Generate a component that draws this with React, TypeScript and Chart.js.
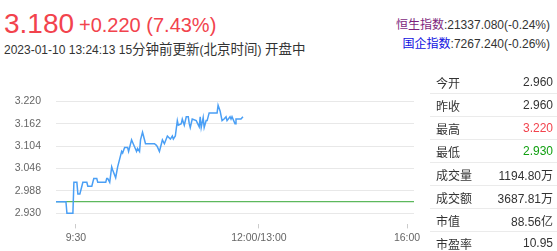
import React, { useEffect, useRef } from 'react';
import { Chart, registerables } from 'chart.js';

Chart.register(...registerables);

// Intraday series: trading-minute index (pre-open counted from 9:00, lunch break skipped) and last price
const minutes = [
  0, 10, 11, 17, 18, 21, 22, 24, 26, 27, 31, 32, 36, 38, 41, 42, 50, 51, 52, 54,
  56, 57, 60, 62, 64, 66, 67, 69, 72, 73, 76, 77, 81, 82, 84, 85, 87, 88, 90, 99,
  101, 102, 104, 106, 107, 109, 112, 115, 117, 118, 120, 122, 123, 126, 127, 129, 131, 133, 134, 135,
  137, 141, 144, 145, 146, 148, 149, 151, 152, 154, 162, 163, 165, 167, 169, 171, 172, 175, 176, 177,
  180, 181, 186, 188,
];
const prices = [
  2.96, 2.96, 2.93, 2.93, 3.01, 3.01, 2.98, 2.98, 3.0, 3.01, 3.01, 3.0, 3.0, 3.02, 3.02, 3.01, 3.01, 3.02, 3.02, 3.01,
  3.05, 3.042, 3.022, 3.05, 3.07, 3.09, 3.086, 3.1, 3.1, 3.09, 3.12, 3.114, 3.09, 3.098, 3.09, 3.12, 3.14, 3.13, 3.11, 3.11,
  3.106, 3.102, 3.09, 3.11, 3.12, 3.11, 3.13, 3.122, 3.13, 3.122, 3.13, 3.17, 3.158, 3.162, 3.174, 3.158, 3.18, 3.18, 3.162, 3.152,
  3.174, 3.17, 3.154, 3.18, 3.152, 3.178, 3.152, 3.17, 3.17, 3.19, 3.19, 3.21, 3.195, 3.17, 3.174, 3.18, 3.17, 3.18, 3.174, 3.18,
  3.162, 3.174, 3.174, 3.18,
];
const prevClose = 2.96;
const sessionMinutes = 360;

// Axis ticks
const yTickValues = [2.93, 2.988, 3.046, 3.104, 3.162, 3.22];
const xTickMinutes = [20, 204, 353];
const xTickLabels = ['9:30', '12:00/13:00', '16:00'];

// Quote header
const lastPrice = '3.180';
const change = '+0.220 (7.43%)';
const updateLine = '2023-01-10 13:24:13 15分钟前更新(北京时间) 开盘中';
const indexNames = ['恒生指数', '国企指数'];
const indexValues = [':21337.080(-0.24%)', ':7267.240(-0.26%)'];

// Quote table
const quoteLabels = ['今开', '昨收', '最高', '最低', '成交量', '成交额', '市值', '市盈率'];
const quoteValues = ['2.960', '2.960', '3.220', '2.930', '1194.80万', '3687.81万', '88.56亿', '10.95'];
const quoteTones = ['', '', 'up', 'down', '', '', '', ''];

const RED = '#f2434d';
const GREEN_TEXT = '#12a012';
const TEXT = '#333333';
const FONT = "'Liberation Sans', Arial, 'Noto Sans CJK SC', sans-serif";

// Han characters are set a little larger than the Latin text around them
function MixedText({ text, cjkSize }: { text: string; cjkSize: number }) {
  const parts = text.split(/([\u4e00-\u9fff]+)/).filter((p) => p.length > 0);
  return (
    <>
      {parts.map((p, i) =>
        /[\u4e00-\u9fff]/.test(p) ? (
          <span key={i} style={{ fontSize: cjkSize }}>
            {p}
          </span>
        ) : (
          <span key={i}>{p}</span>
        )
      )}
    </>
  );
}

function IntradayChart() {
  const canvasRef = useRef<HTMLCanvasElement | null>(null);

  useEffect(() => {
    const canvas = canvasRef.current;
    if (!canvas) return;
    const priceLine = minutes.map((m, i) => ({ x: m, y: prices[i] }));
    const chart = new Chart(canvas, {
      type: 'line',
      data: {
        datasets: [
          {
            data: priceLine,
            borderColor: '#4a9ff5',
            borderWidth: 1.5,
            pointRadius: 0,
            tension: 0,
            fill: false,
          },
          {
            data: [
              { x: 0, y: prevClose },
              { x: sessionMinutes, y: prevClose },
            ],
            borderColor: '#5cb85c',
            borderWidth: 1.2,
            pointRadius: 0,
            fill: false,
          },
        ],
      },
      options: {
        responsive: false,
        animation: false,
        events: [],
        layout: { padding: { top: 14, right: 26, bottom: 4, left: 0 } },
        plugins: { legend: { display: false }, tooltip: { enabled: false } },
        scales: {
          x: {
            type: 'linear',
            min: 0,
            max: sessionMinutes,
            afterBuildTicks: (scale: any) => {
              scale.ticks = xTickMinutes.map((v) => ({ value: v }));
            },
            ticks: {
              autoSkip: false,
              maxRotation: 0,
              padding: 3,
              color: '#666666',
              font: { family: FONT, size: 10.5 },
              callback: (_v: any, i: number) => xTickLabels[i],
            },
            grid: { drawOnChartArea: false, drawTicks: true, tickLength: 4, color: '#cccccc' },
            border: { display: false },
          },
          y: {
            min: 2.901,
            max: 3.22,
            afterBuildTicks: (scale: any) => {
              scale.ticks = yTickValues.map((v) => ({ value: v }));
            },
            afterFit: (scale: any) => {
              scale.width = 56;
            },
            ticks: {
              padding: 15,
              color: '#666666',
              font: { family: FONT, size: 10.5 },
              callback: (v: any) => Number(v).toFixed(3),
            },
            grid: { color: '#e8e8e8', drawTicks: false },
            border: { display: false },
          },
        },
      },
    });
    return () => chart.destroy();
  }, []);

  return (
    <canvas
      ref={canvasRef}
      width={440}
      height={171}
      style={{ position: 'absolute', left: 0, top: 80, width: 440, height: 171, display: 'block' }}
    />
  );
}

export default function App() {
  return (
    <div
      style={{
        position: 'fixed',
        left: 0,
        top: 0,
        width: 557,
        height: 251,
        overflow: 'hidden',
        background: '#ffffff',
        fontFamily: FONT,
        color: TEXT,
      }}
    >
      <div style={{ position: 'absolute', left: 4, top: 9.6, fontSize: 28, lineHeight: '28px', color: RED, whiteSpace: 'nowrap' }}>
        {lastPrice}
      </div>
      <div style={{ position: 'absolute', left: 79, top: 15, fontSize: 20, lineHeight: '20px', color: RED, whiteSpace: 'nowrap' }}>
        {change}
      </div>
      <div style={{ position: 'absolute', left: 4, top: 44, fontSize: 12, lineHeight: '12px', color: TEXT, whiteSpace: 'nowrap' }}>
        <MixedText text={updateLine} cjkSize={13.5} />
      </div>

      {indexNames.map((name, i) => (
        <div
          key={name}
          style={{
            position: 'absolute',
            right: 7,
            top: 19 + i * 19,
            fontSize: 12,
            lineHeight: '12px',
            whiteSpace: 'nowrap',
            color: TEXT,
          }}
        >
          <span style={{ color: i === 0 ? '#7d1f7d' : '#1010e0' }}>{name}</span>
          {indexValues[i]}
        </div>
      ))}

      <IntradayChart />

      <div style={{ position: 'absolute', left: 430, top: 71, width: 127 }}>
        {quoteLabels.map((label, i) => (
          <div
            key={label}
            style={{
              height: 23,
              boxSizing: 'border-box',
              borderBottom: '1px solid #ebebeb',
              display: 'flex',
              alignItems: 'center',
              justifyContent: 'space-between',
              padding: '0 4px 0 6px',
              fontSize: 12,
            }}
          >
            <span>{label}</span>
            <span style={{ color: quoteTones[i] === 'up' ? RED : quoteTones[i] === 'down' ? GREEN_TEXT : TEXT }}>
              {quoteValues[i]}
            </span>
          </div>
        ))}
      </div>
    </div>
  );
}
